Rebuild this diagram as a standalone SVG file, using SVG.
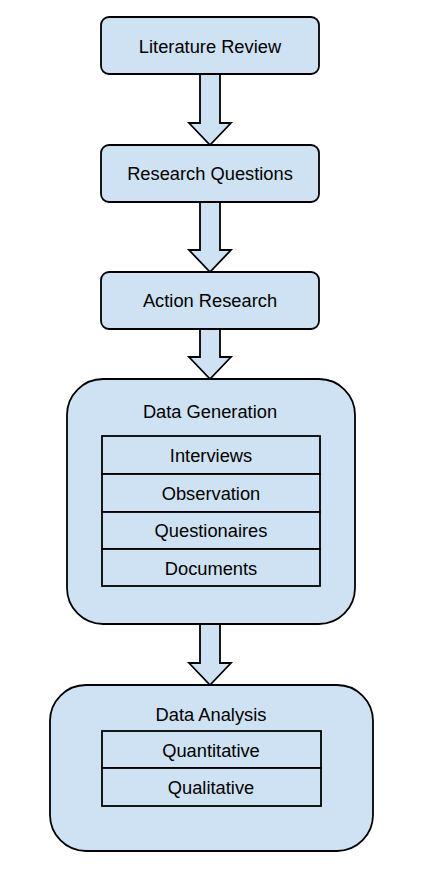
<svg xmlns="http://www.w3.org/2000/svg" width="421" height="869" viewBox="0 0 421 869">
<style>
.box{fill:#cfe2f3;stroke:#000;stroke-width:1.8}
.cell{fill:#cfe2f3;stroke:#000;stroke-width:1.8}
.arr{fill:#cfe2f3;stroke:#000;stroke-width:1.8;stroke-linejoin:miter}
text{font-family:"Liberation Sans",Arial,sans-serif;font-size:18.3px;fill:#000;text-anchor:middle}
</style>
<rect width="421" height="869" fill="#fff"/>
<g id="connectors">
<polygon class="arr" points="200,74 220,74 220,123 231,123 210,145 189,123 200,123"/>
<polygon class="arr" points="200,202 220,202 220,250 231,250 210,272 189,250 200,250"/>
<polygon class="arr" points="200,329 220,329 220,357 231,357 210,379 189,357 200,357"/>
<polygon class="arr" points="200,624 220,624 220,663 231,663 210,685 189,663 200,663"/>
</g>
<g id="literature-review">
<rect class="box" x="101" y="17" width="218" height="57" rx="8"/>
<text x="210" y="53">Literature Review</text>
</g>
<g id="research-questions">
<rect class="box" x="101" y="145" width="218" height="57" rx="8"/>
<text x="210" y="180">Research Questions</text>
</g>
<g id="action-research">
<rect class="box" x="101" y="272" width="218" height="57" rx="8"/>
<text x="210" y="307">Action Research</text>
</g>
<g id="data-generation">
<rect class="box" x="67" y="379" width="288" height="245" rx="36"/>
<text x="210" y="418">Data Generation</text>
<rect class="cell" x="102" y="436" width="218" height="38"/>
<text x="211" y="462">Interviews</text>
<rect class="cell" x="102" y="474" width="218" height="38"/>
<text x="211" y="500">Observation</text>
<rect class="cell" x="102" y="512" width="218" height="37"/>
<text x="211" y="537">Questionaires</text>
<rect class="cell" x="102" y="549" width="218" height="37"/>
<text x="211" y="575">Documents</text>
</g>
<g id="data-analysis">
<rect class="box" x="50" y="685" width="323" height="166" rx="36"/>
<text x="211" y="721">Data Analysis</text>
<rect class="cell" x="102" y="731" width="219" height="37"/>
<text x="211" y="757">Quantitative</text>
<rect class="cell" x="102" y="768" width="219" height="38"/>
<text x="211" y="794">Qualitative</text>
</g>
</svg>
